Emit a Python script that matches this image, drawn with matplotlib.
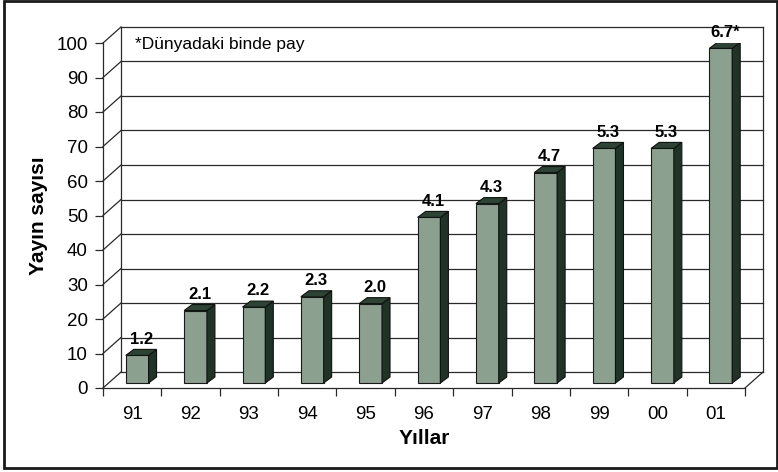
import numpy as np
import matplotlib
matplotlib.use('Agg')
import matplotlib.pyplot as plt
from matplotlib.patches import Polygon, Rectangle

plt.rcParams['font.family'] = ['Liberation Sans', 'DejaVu Sans']

# data
years = ['91', '92', '93', '94', '95', '96', '97', '98', '99', '00', '01']
yayin = [8, 21, 22, 25, 23, 48, 52, 61, 68, 68, 97]
binde = ['1.2', '2.1', '2.2', '2.3', '2.0', '4.1', '4.3', '4.7', '5.3', '5.3', '6.7*']

W, H = 778, 472
fig = plt.figure(figsize=(W / 100, H / 100), dpi=100)

# front plane of the 3d box (pixels)
x0, x1, ytop, ybot = 103, 745, 43, 388
ax = fig.add_axes([x0 / W, (H - ybot) / H, (x1 - x0) / W, (ybot - ytop) / H])
n = len(years)
ax.set_xlim(0, n)
ax.set_ylim(0, 100)

sx = (x1 - x0) / n      # px per category
sy = (ybot - ytop) / 100  # px per unit

def px(dx, dy):
    return dx / sx, dy / sy

# wall depth, bar offset and bar depth
DX, DY = px(18, 16)
BX, BY = px(5, 5)
dx, dy = px(8, 6)

line_kw = dict(color='#2a2a2a', lw=0.9, clip_on=False, zorder=1)
grid = np.arange(0, 101, 10)
for v in grid:
    ax.plot([DX, n + DX], [v + DY, v + DY], **line_kw)
    ax.plot([0, DX], [v, v + DY], **line_kw)
ax.plot([DX, DX], [DY, 100 + DY], **line_kw)
ax.plot([n + DX, n + DX], [DY, 100 + DY], **line_kw)
ax.plot([n, n + DX], [0, DY], **line_kw)

# bars
xs = np.arange(n) + 0.5
bw = 0.39
face = '#8ba08f'
bars = ax.bar(xs + BX, yayin, width=bw, bottom=BY, color=face,
              edgecolor='#1a1a1a', linewidth=0.8, zorder=3)
for xc, v, lab in zip(xs, yayin, binde):
    l = xc + BX - bw / 2
    r = xc + BX + bw / 2
    t = v + BY
    side = Polygon([(r, BY), (r, t), (r + dx, t + dy), (r + dx, BY + dy)],
                   closed=True, facecolor='#1f3427', edgecolor='#111111',
                   linewidth=0.8, zorder=3)
    top = Polygon([(l, t), (r, t), (r + dx, t + dy), (l + dx, t + dy)],
                  closed=True, facecolor='#2b4434', edgecolor='#111111',
                  linewidth=0.8, zorder=3)
    ax.add_patch(side)
    ax.add_patch(top)
    ax.annotate(lab, (xc + BX + dx / 2, t + dy), xytext=(0, 2),
                textcoords='offset points', ha='center', va='bottom',
                fontsize=12, fontweight='bold', zorder=5,
                annotation_clip=False)

# axes styling
for s in ['top', 'right']:
    ax.spines[s].set_visible(False)
for s in ['left', 'bottom']:
    ax.spines[s].set_color('#2a2a2a')
    ax.spines[s].set_linewidth(0.9)
ax.set_yticks(grid)
ax.tick_params(axis='y', length=6, width=0.9, pad=5, labelsize=13.5,
               color='#2a2a2a')
ax.set_xticks(xs)
ax.set_xticklabels(years)
ax.set_xticks(np.arange(n + 1), minor=True)
ax.tick_params(axis='x', which='major', length=0, pad=13, labelsize=13.5)
ax.tick_params(axis='x', which='minor', length=6, width=0.9, color='#2a2a2a')
ax.patch.set_visible(False)

ax.set_ylabel('Yayın sayısı', fontsize=15, fontweight='bold', labelpad=6)
ax.set_xlabel('Yıllar', fontsize=15, fontweight='bold', labelpad=4)

ax.text(DX + px(14, 0)[0], 100 + DY - px(0, 10)[1], '*Dünyadaki binde pay',
        ha='left', va='top', fontsize=12.5, zorder=5)

# outer frame
fig.add_artist(Rectangle((4 / W, 4 / H), (W - 5) / W, (H - 5) / H,
                         transform=fig.transFigure, fill=False,
                         edgecolor='#1a1a1a', linewidth=2))

fig.savefig('out.png', dpi=100)
